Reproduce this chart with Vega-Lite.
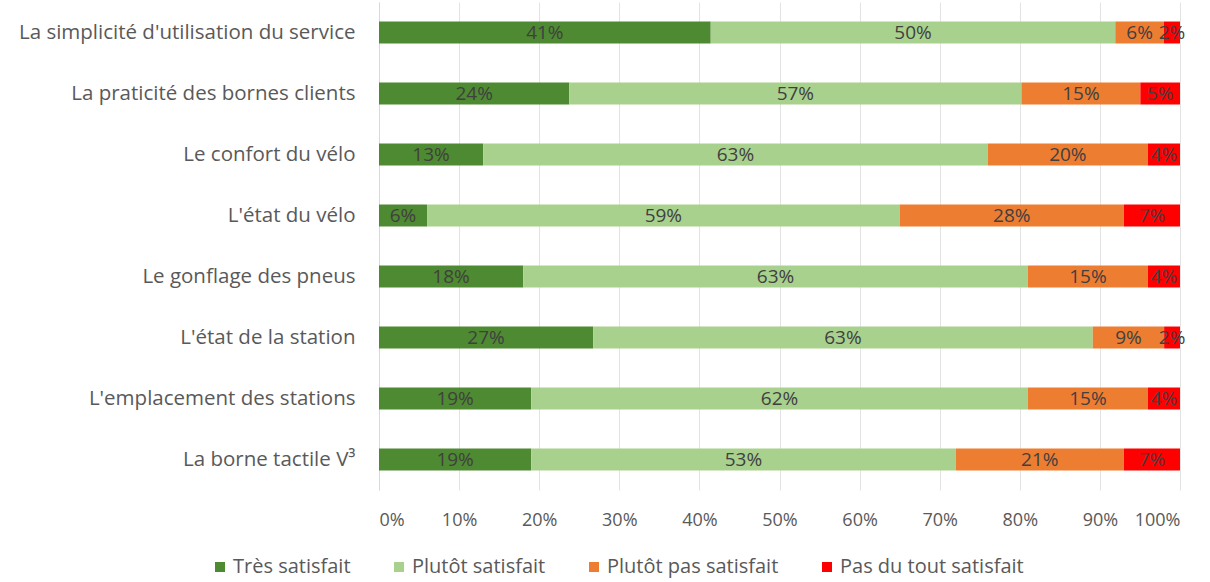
{
  "$schema": "https://vega.github.io/schema/vega-lite/v6.json",
  "width": 801,
  "height": 488,
  "autosize": {"type": "none"},
  "padding": {"left": 379, "top": 2, "right": 30, "bottom": 92},
  "background": "white",
  "config": {"font": "Open Sans", "view": {"stroke": null}},
  "data": {"values": [
    {"item": "La simplicité d'utilisation du service", "cat": "Très satisfait", "k": 1, "v": 0.41},
    {"item": "La simplicité d'utilisation du service", "cat": "Plutôt satisfait", "k": 2, "v": 0.50},
    {"item": "La simplicité d'utilisation du service", "cat": "Plutôt pas satisfait", "k": 3, "v": 0.06},
    {"item": "La simplicité d'utilisation du service", "cat": "Pas du tout satisfait", "k": 4, "v": 0.02},
    {"item": "La praticité des bornes clients", "cat": "Très satisfait", "k": 1, "v": 0.24},
    {"item": "La praticité des bornes clients", "cat": "Plutôt satisfait", "k": 2, "v": 0.57},
    {"item": "La praticité des bornes clients", "cat": "Plutôt pas satisfait", "k": 3, "v": 0.15},
    {"item": "La praticité des bornes clients", "cat": "Pas du tout satisfait", "k": 4, "v": 0.05},
    {"item": "Le confort du vélo", "cat": "Très satisfait", "k": 1, "v": 0.13},
    {"item": "Le confort du vélo", "cat": "Plutôt satisfait", "k": 2, "v": 0.63},
    {"item": "Le confort du vélo", "cat": "Plutôt pas satisfait", "k": 3, "v": 0.20},
    {"item": "Le confort du vélo", "cat": "Pas du tout satisfait", "k": 4, "v": 0.04},
    {"item": "L'état du vélo", "cat": "Très satisfait", "k": 1, "v": 0.06},
    {"item": "L'état du vélo", "cat": "Plutôt satisfait", "k": 2, "v": 0.59},
    {"item": "L'état du vélo", "cat": "Plutôt pas satisfait", "k": 3, "v": 0.28},
    {"item": "L'état du vélo", "cat": "Pas du tout satisfait", "k": 4, "v": 0.07},
    {"item": "Le gonflage des pneus", "cat": "Très satisfait", "k": 1, "v": 0.18},
    {"item": "Le gonflage des pneus", "cat": "Plutôt satisfait", "k": 2, "v": 0.63},
    {"item": "Le gonflage des pneus", "cat": "Plutôt pas satisfait", "k": 3, "v": 0.15},
    {"item": "Le gonflage des pneus", "cat": "Pas du tout satisfait", "k": 4, "v": 0.04},
    {"item": "L'état de la station", "cat": "Très satisfait", "k": 1, "v": 0.27},
    {"item": "L'état de la station", "cat": "Plutôt satisfait", "k": 2, "v": 0.63},
    {"item": "L'état de la station", "cat": "Plutôt pas satisfait", "k": 3, "v": 0.09},
    {"item": "L'état de la station", "cat": "Pas du tout satisfait", "k": 4, "v": 0.02},
    {"item": "L'emplacement des stations", "cat": "Très satisfait", "k": 1, "v": 0.19},
    {"item": "L'emplacement des stations", "cat": "Plutôt satisfait", "k": 2, "v": 0.62},
    {"item": "L'emplacement des stations", "cat": "Plutôt pas satisfait", "k": 3, "v": 0.15},
    {"item": "L'emplacement des stations", "cat": "Pas du tout satisfait", "k": 4, "v": 0.04},
    {"item": "La borne tactile V³", "cat": "Très satisfait", "k": 1, "v": 0.19},
    {"item": "La borne tactile V³", "cat": "Plutôt satisfait", "k": 2, "v": 0.53},
    {"item": "La borne tactile V³", "cat": "Plutôt pas satisfait", "k": 3, "v": 0.21},
    {"item": "La borne tactile V³", "cat": "Pas du tout satisfait", "k": 4, "v": 0.07}
  ]},
  "transform": [
    {"stack": "v", "groupby": ["item"], "sort": [{"field": "k", "order": "ascending"}], "offset": "normalize", "as": ["x0", "x1"]},
    {"calculate": "(datum.x0 + datum.x1) / 2", "as": "xm"}
  ],
  "encoding": {
    "y": {
      "field": "item", "type": "nominal", "sort": null,
      "scale": {"paddingInner": 0.64, "paddingOuter": 0.32},
      "axis": {"title": null, "ticks": false, "domain": true, "domainColor": "#d9d9d9", "labelFontSize": 20.5, "labelColor": "#595959", "labelPadding": 24, "labelLimit": 400}
    }
  },
  "layer": [
    {
      "mark": {"type": "bar"},
      "encoding": {
        "x": {"field": "x0", "type": "quantitative", "scale": {"domain": [0, 1], "nice": false},
          "axis": {"title": null, "format": ".0%", "values": [0,0.1,0.2,0.3,0.4,0.5,0.6,0.7,0.8,0.9,1], "labelOverlap": false, "grid": true, "gridColor": "#e3e3e3", "domain": false, "ticks": false, "labelFontSize": 18, "labelColor": "#595959", "labelPadding": 21}},
        "x2": {"field": "x1"},
        "color": {
          "field": "cat", "type": "nominal",
          "scale": {"domain": ["Très satisfait", "Plutôt satisfait", "Plutôt pas satisfait", "Pas du tout satisfait"], "range": ["#4e8a31", "#a9d18e", "#ed7d31", "#ff0000"]},
          "legend": {"title": null, "orient": "none", "direction": "horizontal", "legendX": -169, "legendY": 555, "symbolType": "square", "symbolSize": 100, "symbolStrokeWidth": 0, "labelFontSize": 20, "labelColor": "#595959", "labelLimit": 300, "columnPadding": 38, "labelOffset": 3}
        },
        "order": {"field": "k"}
      }
    },
    {
      "mark": {"type": "text", "fontSize": 19, "color": "#404040", "align": "center", "baseline": "middle"},
      "encoding": {
        "x": {"field": "xm", "type": "quantitative"},
        "text": {"field": "v", "type": "quantitative", "format": ".0%"}
      }
    }
  ]
}
